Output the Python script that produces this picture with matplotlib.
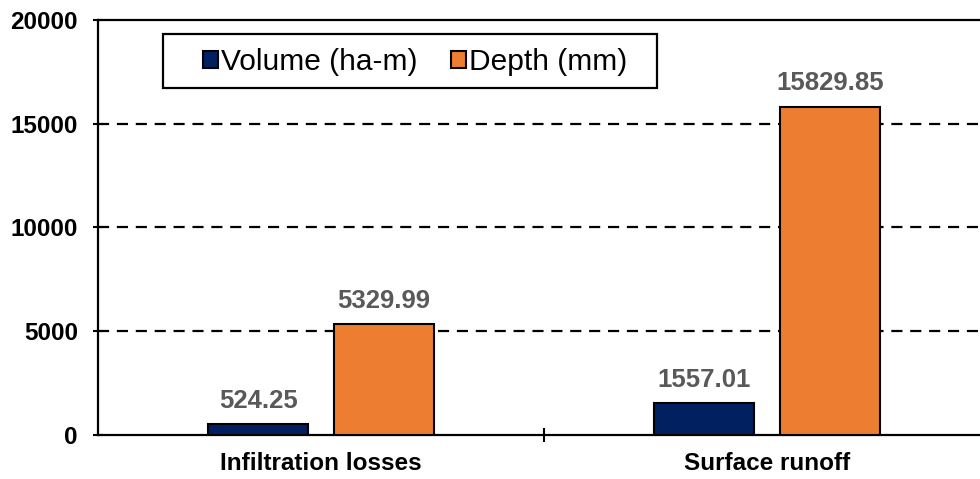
import matplotlib
matplotlib.use('Agg')
import matplotlib.pyplot as plt
import matplotlib.patches as mpatches
import numpy as np

plt.rcParams['font.family'] = ['Liberation Sans', 'DejaVu Sans']

# ─── Data ───────────────────────────────────────────────────────────────────
categories = ['Infiltration losses', 'Surface runoff']
volume_ham = [524.25, 1557.01]
depth_mm = [5329.99, 15829.85]
series_labels = ['Volume (ha-m)', 'Depth (mm)']
y_ticks = [0, 5000, 10000, 15000, 20000]

NAVY = '#002060'
ORANGE = '#ED7D31'

fig = plt.figure(figsize=(9.8, 4.79), dpi=100)
# axes runs slightly past the right edge, so the right spine is clipped off
ax = fig.add_axes([0.1, 0.0919, 0.9102, 0.8664])

x = np.arange(len(categories))
width = 0.224
offset = 0.141

bars_v = ax.bar(x - offset, volume_ham, width, color=NAVY, edgecolor='black',
                linewidth=1.5, label=series_labels[0], zorder=3)
bars_d = ax.bar(x + offset, depth_mm, width, color=ORANGE, edgecolor='black',
                linewidth=1.5, label=series_labels[1], zorder=3)

# Value labels above bars
for bars, vals in ((bars_v, volume_ham), (bars_d, depth_mm)):
    for bar, val in zip(bars, vals):
        ax.annotate(f'{val:.2f}', (bar.get_x() + bar.get_width() / 2, val),
                    xytext=(0, 8), textcoords='offset points',
                    ha='center', va='bottom', fontsize=18.5, fontweight='bold',
                    color='#595959')

ax.set_xlim(-0.5, 1.5)
ax.set_ylim(0, 20000)

ax.set_yticks(y_ticks)
ax.set_yticklabels([str(t) for t in y_ticks], fontsize=17.5, fontweight='bold')
ax.tick_params(axis='y', direction='inout', length=7, width=1.5, pad=11)

# category labels at centres, tick marks at the boundaries between them
ax.set_xticks(x)
ax.set_xticklabels(categories, fontsize=17.5, fontweight='bold')
ax.tick_params(axis='x', which='major', length=0, pad=12)
ax.set_xticks([0.5], minor=True)
ax.tick_params(axis='x', which='minor', direction='inout', length=10, width=1.5)

for y in y_ticks[1:-1]:
    ax.axhline(y, color='black', linestyle=(0, (5, 3.5)), linewidth=1.6, zorder=1)

for side in ('left', 'bottom', 'top'):
    ax.spines[side].set_linewidth(1.6)
ax.spines['right'].set_visible(False)

# legend box drawn separately so its padding can be wider than tall
frame = mpatches.Rectangle((0.1663, 0.8163), 0.504, 0.1127, transform=fig.transFigure,
                           facecolor='white', edgecolor='black', linewidth=1.6,
                           zorder=4, clip_on=False)
ax.add_patch(frame)
leg = ax.legend(loc='center left', bbox_to_anchor=(0.2071, 0.8705),
                bbox_transform=fig.transFigure, ncol=2, fontsize=21.5,
                frameon=False, handlelength=0.5, handleheight=0.5,
                handletextpad=0.12, columnspacing=1.1, borderpad=0,
                borderaxespad=0)
leg.set_zorder(5)

plt.savefig('out.png', dpi=100)
plt.close()
